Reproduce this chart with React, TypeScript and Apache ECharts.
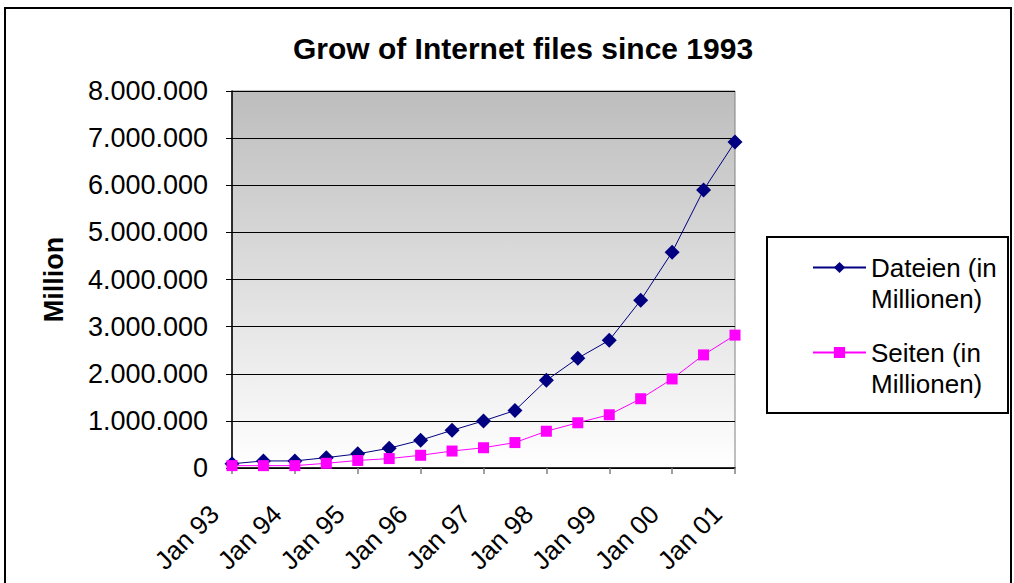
import React, { useEffect, useRef } from "react";
import * as echarts from "echarts";

const categories = [
  "Jan 93", "Jul 93", "Jan 94", "Jul 94", "Jan 95", "Jul 95", "Jan 96", "Jul 96",
  "Jan 97", "Jul 97", "Jan 98", "Jul 98", "Jan 99", "Jul 99", "Jan 00", "Jul 00", "Jan 01",
];
const dateienName = "Dateien (in Millionen)";
const seitenName = "Seiten (in Millionen)";
const dateien = [
  90000, 150000, 150000, 220000, 300000, 420000, 590000, 800000, 1000000,
  1220000, 1860000, 2330000, 2710000, 3560000, 4580000, 5900000, 6920000,
];
const seiten = [
  50000, 50000, 50000, 100000, 160000, 200000, 270000, 360000, 430000,
  540000, 780000, 960000, 1130000, 1470000, 1890000, 2400000, 2820000,
];
const yMin = 0;
const yMax = 8000000;
const yInterval = 1000000;
const titleText = "Grow of Internet files since 1993";
const yAxisName = "Million";

const FONT = '"Liberation Sans", Arial, sans-serif';

function fmt(v: number): string {
  return String(v).replace(/\B(?=(\d{3})+(?!\d))/g, ".");
}

export default function App() {
  const ref = useRef<HTMLDivElement>(null);
  useEffect(() => {
    if (!ref.current) return;
    const chart = echarts.init(ref.current, undefined, { renderer: "svg" });
    chart.setOption({
      animation: false,
      backgroundColor: "#ffffff",
      textStyle: { fontFamily: FONT },
      title: {
        text: titleText,
        left: 518,
        top: 28,
        textAlign: "center",
        textStyle: { fontFamily: FONT, fontWeight: "bold", fontSize: 30, color: "#000" },
      },
      graphic: [
        {
          type: "rect",
          shape: { x: 5, y: 8, width: 1006, height: 620 },
          style: { fill: "none", stroke: "#000", lineWidth: 2 },
          silent: true,
          z: -1,
        },
        {
          type: "rect",
          shape: { x: 767, y: 237, width: 241, height: 176 },
          style: { fill: "#fff", stroke: "#000", lineWidth: 2 },
          silent: true,
          z: 0,
        },
      ],
      legend: {
        orient: "vertical",
        left: 812,
        top: 221,
        padding: 0,
        itemGap: -8,
        itemWidth: 53,
        itemHeight: 14,
        z: 10,
        data: [dateienName, seitenName],
        formatter: (name: string) => "\n" + name.replace(" Millionen", "\nMillionen"),
        textStyle: {
          fontFamily: FONT,
          fontSize: 26,
          lineHeight: 31,
          color: "#000",
        },
      },
      grid: {
        left: 232,
        top: 91,
        width: 503,
        height: 377,
        show: true,
        borderColor: "#808080",
        borderWidth: 1,
        backgroundColor: new echarts.graphic.LinearGradient(0, 0, 0, 1, [
          { offset: 0, color: "#bdbdbd" },
          { offset: 1, color: "#ffffff" },
        ]),
      },
      xAxis: {
        type: "category",
        data: categories,
        boundaryGap: false,
        axisLine: { lineStyle: { color: "#000", width: 1.5 } },
        axisTick: { interval: 1, length: 6, lineStyle: { color: "#808080", width: 1.5 } },
        axisLabel: {
          interval: 1,
          rotate: 45,
          margin: 24,
          padding: [0, 25, 0, 0],
          fontFamily: FONT,
          fontSize: 26,
          color: "#000",
        },
        splitLine: { show: false },
      },
      yAxis: {
        type: "value",
        min: yMin,
        max: yMax,
        interval: yInterval,
        name: yAxisName,
        nameLocation: "middle",
        nameRotate: 90,
        nameGap: 165,
        nameTextStyle: { fontFamily: FONT, fontWeight: "bold", fontSize: 27, color: "#000" },
        axisLine: { show: true, lineStyle: { color: "#000", width: 1.5 } },
        axisTick: { show: true, inside: false, length: 6, lineStyle: { color: "#000" } },
        axisLabel: {
          margin: 24,
          fontFamily: FONT,
          fontSize: 27,
          color: "#000",
          formatter: (v: number) => fmt(v),
        },
        splitLine: { show: true, lineStyle: { color: "#000", width: 1 } },
      },
      series: [
        {
          name: dateienName,
          type: "line",
          data: dateien,
          symbol: "diamond",
          symbolSize: 15,
          lineStyle: { color: "#000080", width: 1 },
          itemStyle: { color: "#000080" },
          z: 3,
        },
        {
          name: seitenName,
          type: "line",
          data: seiten,
          symbol: "rect",
          symbolSize: 11,
          lineStyle: { color: "#ff00ff", width: 1 },
          itemStyle: { color: "#ff00ff" },
          z: 4,
        },
      ],
    });
    return () => chart.dispose();
  }, []);
  return (
    <div
      ref={ref}
      style={{ position: "absolute", left: 0, top: 0, width: 1014, height: 583, background: "#fff" }}
    />
  );
}
